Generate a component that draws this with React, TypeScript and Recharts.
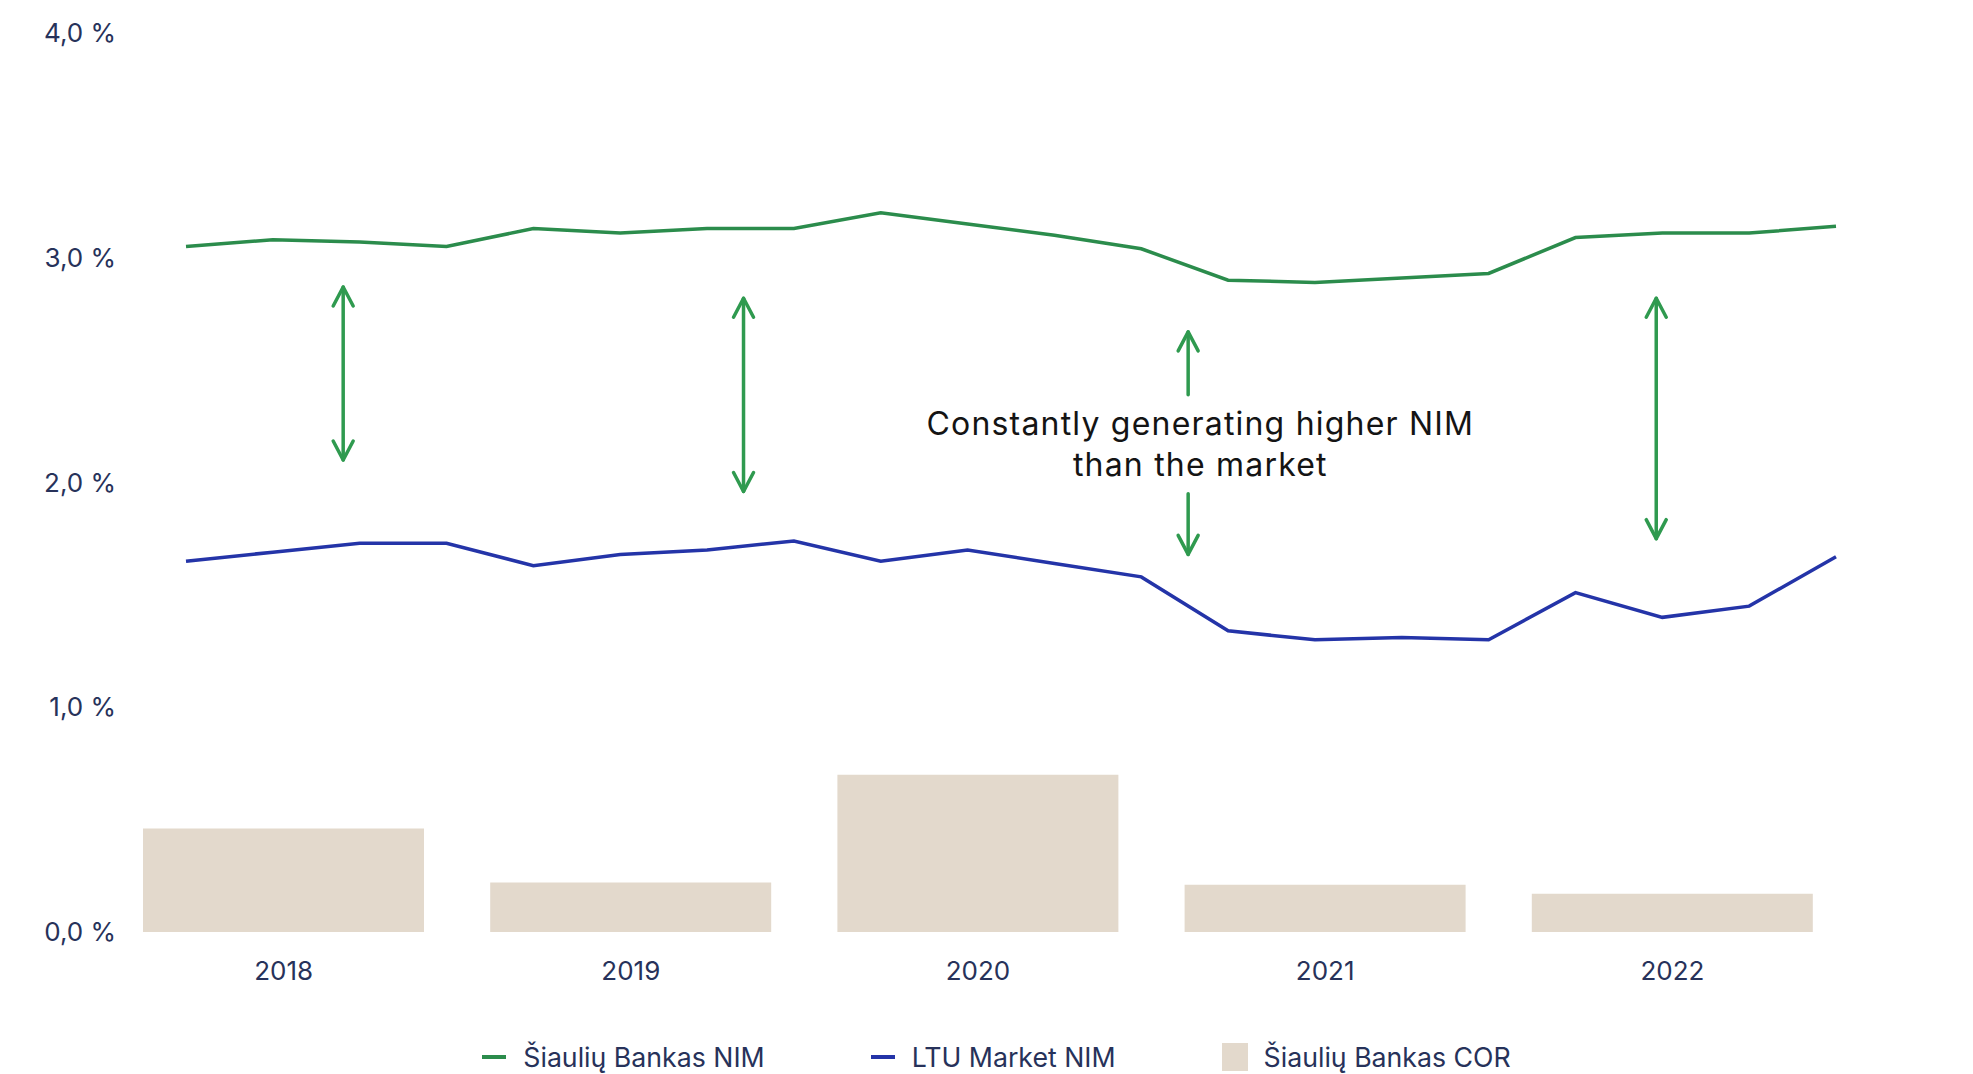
import React from 'react';
import {
  ComposedChart,
  Bar,
  Line,
  XAxis,
  YAxis,
  Legend,
  ReferenceLine,
  ReferenceDot,
} from 'recharts';

// annual cost of risk, %
const years = ['2018', '2019', '2020', '2021', '2022'];
const corValues = [0.46, 0.22, 0.7, 0.21, 0.17];

// quarterly net interest margin, %, Q1 2018 .. Q4 2022
const sbNim = [
  3.05, 3.08, 3.07, 3.05, 3.13, 3.11, 3.13, 3.13, 3.2, 3.15,
  3.1, 3.04, 2.9, 2.89, 2.91, 2.93, 3.09, 3.11, 3.11, 3.14,
];
const marketNim = [
  1.65, 1.69, 1.73, 1.73, 1.63, 1.68, 1.7, 1.74, 1.65, 1.7,
  1.64, 1.58, 1.34, 1.3, 1.31, 1.3, 1.51, 1.4, 1.45, 1.67,
];

const yTicks = [0, 1, 2, 3, 4];

// gap arrows between the two NIM lines (x in quarter index, y in %)
const gapArrows = [
  { q: 1.81, from: 2.87, to: 2.1, heads: 'both' },
  { q: 6.42, from: 2.82, to: 1.96, heads: 'both' },
  { q: 11.54, from: 2.67, to: 2.39, heads: 'up' },
  { q: 11.54, from: 1.95, to: 1.68, heads: 'down' },
  { q: 16.93, from: 2.82, to: 1.75, heads: 'both' },
];

const noteLines = ['Constantly generating higher NIM', 'than the market'];
const notePos = { q: 11.68, y: 2.21 };

const GREEN = '#2b8c4c';
const ARROW_GREEN = '#2f9a4f';
const BLUE = '#2434a8';
const BEIGE = '#e3d9cc';
const NAVY = '#27325a';
const FONT = 'Inter, "Noto Sans", sans-serif';

const annual = years.map((year, i) => ({ year, cor: corValues[i] }));
const quarterly = sbNim.map((v, i) => ({ q: i, sb: v, market: marketNim[i] }));

const legendItems = [
  { label: 'Šiaulių Bankas NIM', color: GREEN, kind: 'line' },
  { label: 'LTU Market NIM', color: BLUE, kind: 'line' },
  { label: 'Šiaulių Bankas COR', color: BEIGE, kind: 'box' },
];

const fmtPct = (v: number) => `${v.toFixed(1).replace('.', ',')} %`;

const YTick = (props: any) => {
  const { x, y, payload } = props;
  return (
    <text x={x + 6} y={y} dy="0.35em" textAnchor="end" fill={NAVY} fontSize={26} fontFamily={FONT}>
      {fmtPct(payload.value)}
    </text>
  );
};

const XTick = (props: any) => {
  const { x, y, payload } = props;
  return (
    <text x={x} y={y + 9} dy="0.35em" textAnchor="middle" fill={NAVY} fontSize={26} fontFamily={FONT}>
      {payload.value}
    </text>
  );
};

const makeArrow = (heads: string) => (props: any) => {
  const { x1, y1, x2, y2 } = props;
  const top = Math.min(y1, y2);
  const bottom = Math.max(y1, y2);
  const hw = 10;
  const hh = 19;
  return (
    <g stroke={ARROW_GREEN} strokeWidth={3.5} fill="none" strokeLinecap="round" strokeLinejoin="round">
      <line x1={x1} y1={top} x2={x2} y2={bottom} />
      {heads !== 'down' && <polyline points={`${x1 - hw},${top + hh} ${x1},${top} ${x1 + hw},${top + hh}`} />}
      {heads !== 'up' && <polyline points={`${x1 - hw},${bottom - hh} ${x1},${bottom} ${x1 + hw},${bottom - hh}`} />}
    </g>
  );
};

const NoteText = (props: any) => {
  const { cx, cy } = props;
  return (
    <text x={cx} y={cy} textAnchor="middle" fill="#141414" fontSize={32} letterSpacing={1.2} fontFamily={FONT}>
      {noteLines.map((line, i) => (
        <tspan key={line} x={cx} dy={i === 0 ? 0 : 41}>
          {line}
        </tspan>
      ))}
    </text>
  );
};

const LegendContent = () => (
  <div
    style={{
      height: 34,
      display: 'flex',
      justifyContent: 'center',
      alignItems: 'center',
      gap: 106,
      paddingLeft: 20,
      fontFamily: FONT,
      fontSize: 26.7,
      color: NAVY,
    }}
  >
    {legendItems.map((item) => (
      <div key={item.label} style={{ display: 'flex', alignItems: 'center' }}>
        {item.kind === 'line' ? (
          <span style={{ width: 24, height: 4, background: item.color, marginRight: 17 }} />
        ) : (
          <span style={{ width: 26, height: 28, background: item.color, marginRight: 16 }} />
        )}
        <span>{item.label}</span>
      </div>
    ))}
  </div>
);

export default function App() {
  return (
    <div style={{ position: 'absolute', left: 0, top: 0, background: '#fff' }}>
      <ComposedChart
        width={1973}
        height={1074}
        data={annual}
        margin={{ top: 33, right: 127, left: 0, bottom: 48 }}
      >
        <XAxis
          xAxisId="year"
          dataKey="year"
          type="category"
          height={60}
          axisLine={false}
          tickLine={false}
          tickSize={0}
          tickMargin={0}
          tick={<XTick />}
        />
        <XAxis
          xAxisId="q"
          dataKey="q"
          type="number"
          domain={[0, 19]}
          padding={{ left: 76, right: 10 }}
          hide
        />
        <YAxis
          domain={[0, 4]}
          ticks={yTicks}
          width={110}
          axisLine={false}
          tickLine={false}
          tickSize={0}
          tickMargin={0}
          tick={<YTick />}
          interval={0}
        />
        <Bar
          xAxisId="year"
          dataKey="cor"
          name="Šiaulių Bankas COR"
          fill={BEIGE}
          barSize={281}
          isAnimationActive={false}
        />
        <Line
          xAxisId="q"
          data={quarterly}
          dataKey="sb"
          name="Šiaulių Bankas NIM"
          stroke={GREEN}
          strokeWidth={3.5}
          dot={false}
          activeDot={false}
          type="linear"
          isAnimationActive={false}
        />
        <Line
          xAxisId="q"
          data={quarterly}
          dataKey="market"
          name="LTU Market NIM"
          stroke={BLUE}
          strokeWidth={3.5}
          dot={false}
          activeDot={false}
          type="linear"
          isAnimationActive={false}
        />
        {gapArrows.map((a, i) => (
          <ReferenceLine
            key={i}
            xAxisId="q"
            segment={[
              { x: a.q, y: a.from },
              { x: a.q, y: a.to },
            ]}
            ifOverflow="visible"
            shape={makeArrow(a.heads)}
          />
        ))}
        <ReferenceDot
          xAxisId="q"
          x={notePos.q}
          y={notePos.y}
          r={0}
          ifOverflow="visible"
          shape={<NoteText />}
        />
        <Legend verticalAlign="bottom" content={<LegendContent />} wrapperStyle={{ bottom: 0, left: 0, width: 1973 }} />
      </ComposedChart>
    </div>
  );
}
